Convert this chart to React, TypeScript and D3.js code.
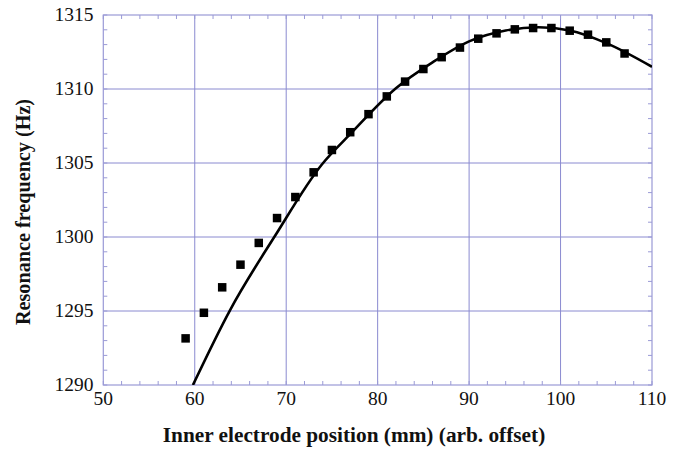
import React from "react";
import * as d3 from "d3";

const xData = [59, 61, 63, 65, 67, 69, 71, 73, 75, 77, 79, 81, 83, 85, 87, 89, 91, 93, 95, 97, 99, 101, 103, 105, 107];
const yData = [1293.15, 1294.88, 1296.6, 1298.13, 1299.6, 1301.28, 1302.7, 1304.37, 1305.88, 1307.08, 1308.3, 1309.5, 1310.5, 1311.35, 1312.15, 1312.8, 1313.4, 1313.76, 1314.03, 1314.12, 1314.12, 1313.94, 1313.67, 1313.15, 1312.4];

const fitX = [59.8, 63.85, 68.8, 73.9, 77, 82, 86, 90, 94, 97.6, 101, 105, 110];
const fitY = [1290, 1295.05, 1300.1, 1304.9, 1306.95, 1310.05, 1311.8, 1313.22, 1313.95, 1314.17, 1313.95, 1313.1, 1311.5];

const xTicks = [50, 60, 70, 80, 90, 100, 110];
const yTicks = [1290, 1295, 1300, 1305, 1310, 1315];

const W = 688, H = 453;
const L = 103.3, R = 652, T = 15, B = 385;
const gridColor = "#8a8ad0";
const frameColor = "#9a9ad6";
const font = "'Liberation Serif', 'Times New Roman', serif";

export default function App() {
  const x = d3.scaleLinear().domain([50, 110]).range([L, R]);
  const y = d3.scaleLinear().domain([1290, 1315]).range([B, T]);
  const xMinor = d3.range(50, 110.01, 2);
  const yMinor = d3.range(1290, 1315.01, 1);
  const line = d3
    .line<number>()
    .x((_, i) => x(fitX[i]))
    .y((_, i) => y(fitY[i]))
    .curve(d3.curveMonotoneX);
  const tl = 4;
  const sq = 8.5;
  return (
    <svg width={W} height={H} style={{ position: "absolute", left: 0, top: 0, background: "#fff" }}>
      <defs>
        <clipPath id="clip">
          <rect x={L} y={T} width={R - L} height={B - T} />
        </clipPath>
      </defs>
      {xTicks.slice(1, -1).map((t) => (
        <line key={"gx" + t} x1={x(t)} x2={x(t)} y1={T} y2={B} stroke={gridColor} strokeWidth={1} />
      ))}
      {yTicks.slice(1, -1).map((t) => (
        <line key={"gy" + t} x1={L} x2={R} y1={y(t)} y2={y(t)} stroke={gridColor} strokeWidth={1} />
      ))}
      {xMinor.map((t) => (
        <g key={"mx" + t}>
          <line x1={x(t)} x2={x(t)} y1={B} y2={B - tl} stroke={frameColor} strokeWidth={1} />
          <line x1={x(t)} x2={x(t)} y1={T} y2={T + tl} stroke={frameColor} strokeWidth={1} />
        </g>
      ))}
      {yMinor.map((t) => (
        <g key={"my" + t}>
          <line x1={L} x2={L + tl} y1={y(t)} y2={y(t)} stroke={frameColor} strokeWidth={1} />
          <line x1={R} x2={R - tl} y1={y(t)} y2={y(t)} stroke={frameColor} strokeWidth={1} />
        </g>
      ))}
      <rect x={L} y={T} width={R - L} height={B - T} fill="none" stroke={frameColor} strokeWidth={1.2} />
      <path d={line(fitX) || ""} fill="none" stroke="#000" strokeWidth={2.6} clipPath="url(#clip)" />
      {xData.map((v, i) => (
        <rect key={"p" + i} x={x(v) - sq / 2} y={y(yData[i]) - sq / 2} width={sq} height={sq} fill="#000" />
      ))}
      {xTicks.map((t) => (
        <text key={"tx" + t} x={x(t)} y={405} textAnchor="middle" fontFamily={font} fontSize={19.5} fill="#111">
          {t}
        </text>
      ))}
      {yTicks.map((t) => (
        <text key={"ty" + t} x={93.5} y={y(t) + 5.5} textAnchor="end" fontFamily={font} fontSize={19.5} fill="#111">
          {t}
        </text>
      ))}
      <text x={354} y={442} textAnchor="middle" fontFamily={font} fontWeight="bold" fontSize={21.3} fill="#111">
        Inner electrode position (mm) (arb. offset)
      </text>
      <text
        transform={`translate(30,212) rotate(-90)`}
        textAnchor="middle"
        fontFamily={font}
        fontWeight="bold"
        fontSize={20.2}
        fill="#111"
      >
        Resonance frequency (Hz)
      </text>
    </svg>
  );
}
